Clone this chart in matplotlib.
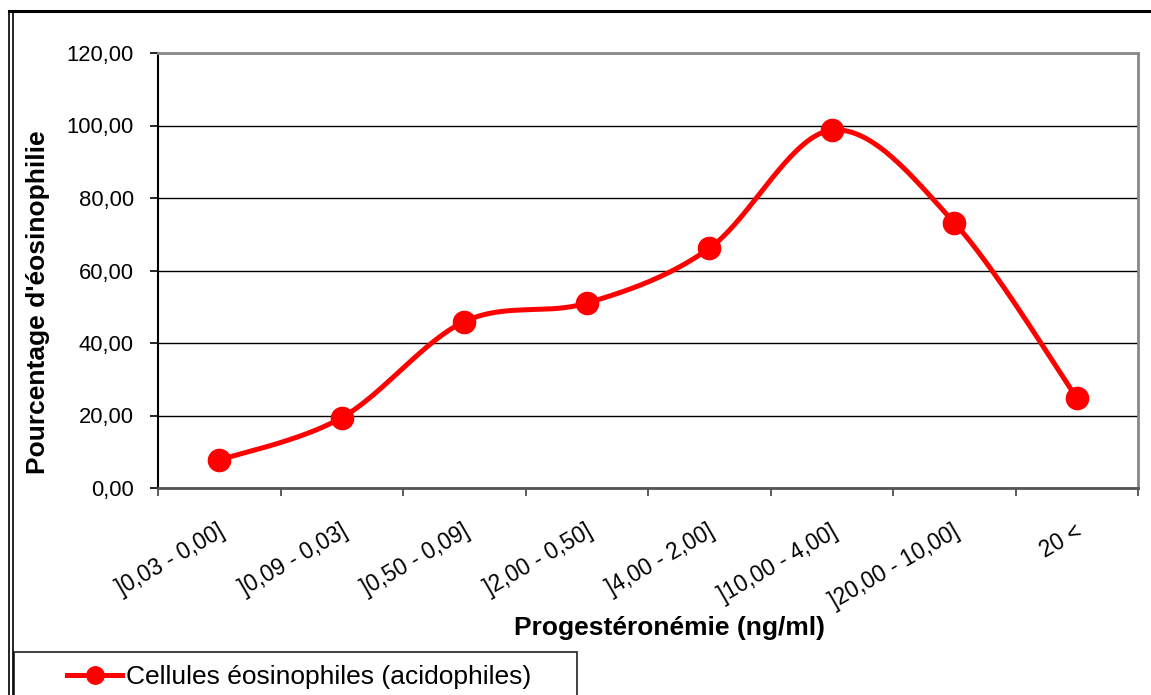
import numpy as np
import matplotlib
matplotlib.use('Agg')
import matplotlib.pyplot as plt
import matplotlib.transforms as mtransforms
from matplotlib.lines import Line2D
from matplotlib.patches import Rectangle
from matplotlib.ticker import FuncFormatter, MultipleLocator

plt.rcParams['font.family'] = ['Liberation Sans', 'DejaVu Sans']

categories = [']0,03 - 0,00]', ']0,09 - 0,03]', ']0,50 - 0,09]', ']2,00 - 0,50]',
              ']4,00 - 2,00]', ']10,00 - 4,00]', ']20,00 - 10,00]', '20 <']
values = [7.7, 19.4, 45.9, 51.0, 66.1, 98.7, 73.2, 24.9]
series_name = 'Cellules éosinophiles (acidophiles)'


def smooth(xs, ys, n=40):
    # Catmull-Rom style bezier, close to what Excel does for "smoothed line"
    p = np.column_stack([xs, ys]).astype(float)
    p = np.vstack([p[0], p, p[-1]])
    out = []
    for i in range(1, len(p) - 2):
        p0, p1, p2, p3 = p[i], p[i] + (p[i + 1] - p[i - 1]) / 6, p[i + 1] - (p[i + 2] - p[i]) / 6, p[i + 1]
        t = np.linspace(0, 1, n)[:, None]
        seg = (1 - t) ** 3 * p0 + 3 * (1 - t) ** 2 * t * p1 + 3 * (1 - t) * t ** 2 * p2 + t ** 3 * p3
        out.append(seg if i == 1 else seg[1:])
    out = np.vstack(out)
    return out[:, 0], out[:, 1]


fig = plt.figure(figsize=(11.51, 6.95), dpi=100)
ax = fig.add_axes([158 / 1151, 1 - 488 / 695, 980 / 1151, 435 / 695])

x = np.arange(len(categories))
sx, sy = smooth(x, values)
ax.plot(sx, sy, color='#ff0000', lw=3.6, solid_capstyle='round', zorder=3)
ax.plot(x, values, 'o', color='#ff0000', ms=16, zorder=4)

ax.set_xlim(-0.5, len(categories) - 0.5)
ax.set_ylim(0, 120)
ax.yaxis.set_major_locator(MultipleLocator(20))
ax.yaxis.set_major_formatter(FuncFormatter(lambda v, p: f'{v:.2f}'.replace('.', ',')))
ax.grid(axis='y', color='black', lw=1.0)
ax.set_axisbelow(True)

ax.set_xticks(x)
ax.set_xticks(np.arange(len(categories) + 1) - 0.5, minor=True)
ax.tick_params(axis='x', which='major', length=0, pad=0)
ax.tick_params(axis='x', which='minor', length=6, width=1.2, color='#404040', direction='out')
ax.tick_params(axis='y', length=6, width=1.2, direction='out', labelsize=15.8, pad=11.5)
ax.set_xticklabels(categories, rotation=30, ha='right', va='top', rotation_mode='anchor', fontsize=16.3)
off = mtransforms.ScaledTranslation(-2 / 100, -32 / 100, fig.dpi_scale_trans)
for lab in ax.get_xticklabels():
    lab.set_transform(lab.get_transform() + off)

for side in ['top', 'right']:
    ax.spines[side].set_color('#888888')
    ax.spines[side].set_linewidth(2)
ax.spines['left'].set_color('black')
ax.spines['left'].set_linewidth(1.5)
ax.spines['bottom'].set_color('#555555')
ax.spines['bottom'].set_linewidth(2)

ax.set_ylabel("Pourcentage d'éosinophilie", fontsize=19, fontweight='bold', va='center')
ax.yaxis.set_label_coords(-0.1224, 0.428)
ax.set_xlabel('Progestéronémie (ng/ml)', fontsize=19, fontweight='bold', va='center')
ax.xaxis.set_label_coords(0.522, -0.322)

# outer chart frame (double line left, thick top)
fig.add_artist(Line2D([9 / 1151, 9 / 1151], [0, 1 - 11 / 695], color='black', lw=1.2))
fig.add_artist(Line2D([12.5 / 1151, 12.5 / 1151], [0, 1 - 11 / 695], color='black', lw=1.2))
fig.add_artist(Line2D([9 / 1151, 1], [1 - 11 / 695, 1 - 11 / 695], color='black', lw=2.2))

# legend box
fig.add_artist(Rectangle((14 / 1151, -0.05), 563 / 1151, 0.05 + 1 - 652 / 695,
                         transform=fig.transFigure, fill=False, ec='#333333', lw=1.3))
handle = Line2D([], [], color='#ff0000', lw=3.6, marker='o', ms=12.5)
fig.legend([handle], [series_name], loc='center left', bbox_to_anchor=(67 / 1151, 1 - 677 / 695),
           frameon=False, fontsize=19, handlelength=2.1, handletextpad=0.12, borderpad=0, borderaxespad=0)

fig.savefig('out.png', dpi=100)
